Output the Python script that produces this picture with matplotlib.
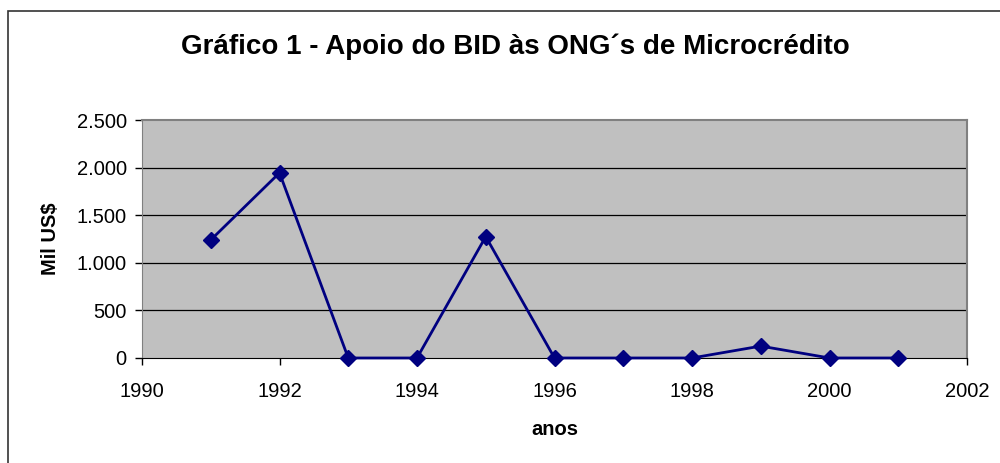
import matplotlib
matplotlib.use("Agg")
import matplotlib.pyplot as plt
from matplotlib.patches import Rectangle
from matplotlib.ticker import FuncFormatter

plt.rcParams['font.family'] = ['Liberation Sans', 'DejaVu Sans']

anos = [1991, 1992, 1993, 1994, 1995, 1996, 1997, 1998, 1999, 2000, 2001]
valores = [1240, 1945, 0, 0, 1275, 0, 0, 0, 125, 0, 0]

x_ticks = [1990, 1992, 1994, 1996, 1998, 2000, 2002]
y_ticks = [0, 500, 1000, 1500, 2000, 2500]

fig = plt.figure(figsize=(10, 4.63), dpi=100)

# moldura do gráfico
fig.patches.append(Rectangle((0.008, -0.05), 1.1, 1.026, transform=fig.transFigure,
                             fill=False, edgecolor='#333333', linewidth=1.2))

ax = fig.add_axes([0.142, 0.2268, 0.825, 0.514])
ax.set_facecolor('#c0c0c0')

for yv in y_ticks[1:-1]:
    ax.axhline(yv, color='black', linewidth=0.9, zorder=1)

ax.plot(anos, valores, color='#000080', linewidth=2, marker='D', markersize=8,
        zorder=3, clip_on=False)

ax.set_xlim(1990, 2002)
ax.set_ylim(0, 2500)
ax.set_xticks(x_ticks)
ax.set_yticks(y_ticks)
ax.yaxis.set_major_formatter(FuncFormatter(lambda v, p: f"{int(v):,}".replace(",", ".")))

ax.spines['top'].set_color('#808080')
ax.spines['right'].set_color('#808080')
ax.spines['top'].set_linewidth(1.5)
ax.spines['right'].set_linewidth(1.5)
ax.spines['left'].set_color('#808080')
ax.spines['bottom'].set_color('black')

ax.tick_params(axis='both', direction='out', length=5, width=1, labelsize=14.5, pad=6)
ax.tick_params(axis='x', pad=12)

ax.set_ylabel("Mil US$", fontsize=14.5, fontweight='bold', labelpad=12)
ax.set_xlabel("anos", fontsize=14.5, fontweight='bold', labelpad=14)

fig.text(0.515, 0.898, "Gráfico 1 - Apoio do BID às ONG´s de Microcrédito",
         ha='center', va='center', fontsize=20, fontweight='bold')

fig.savefig("out.png", dpi=100)
